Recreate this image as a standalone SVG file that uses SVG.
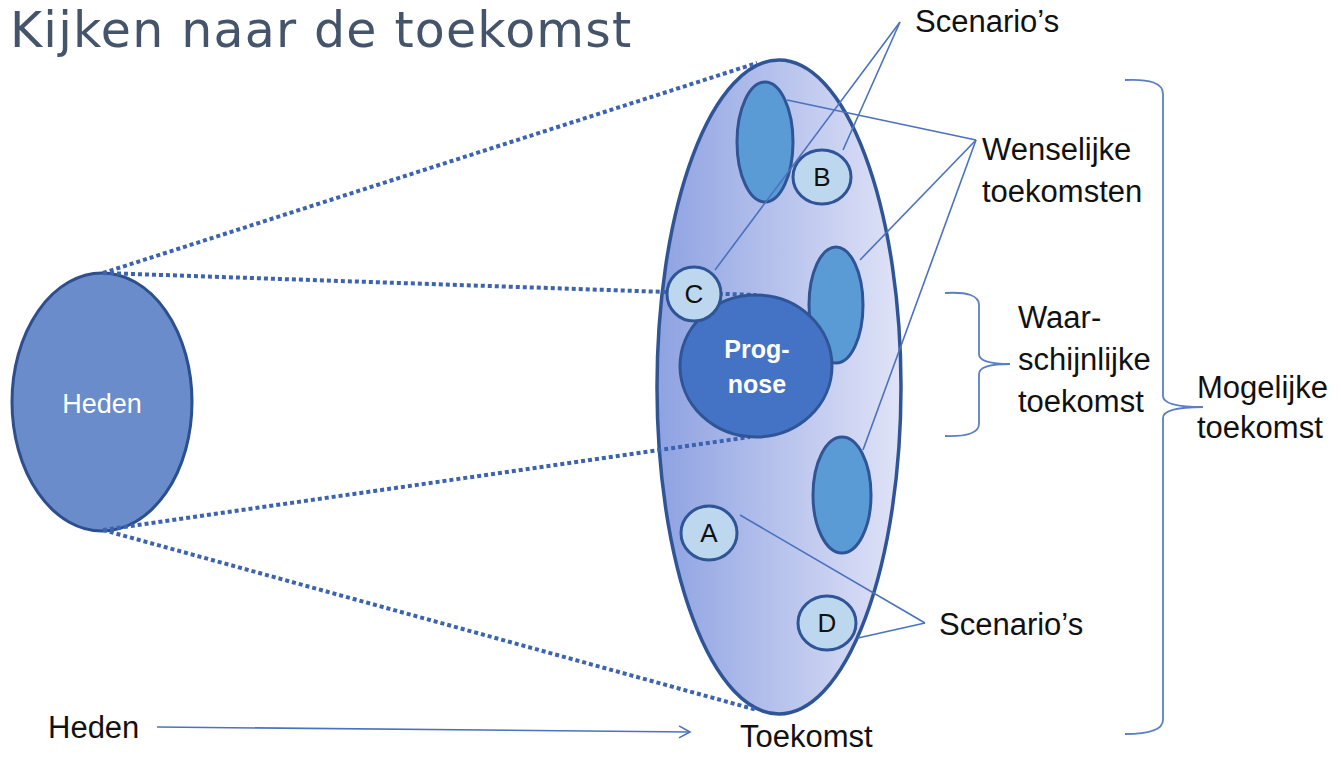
<svg xmlns="http://www.w3.org/2000/svg" width="1341" height="757" viewBox="0 0 1341 757">
<style>
.lbl{font-family:"Liberation Sans",Arial,sans-serif;font-size:31px;fill:#111}
.dot{stroke:#3c63b0;stroke-width:4;stroke-dasharray:4 3;fill:none}
.thin{stroke:#4a72bd;stroke-width:1.6;fill:none}
.brace{stroke:#5b7fc4;stroke-width:1.8;fill:none}
.inner{fill:#5b9bd5;stroke:#2f5597;stroke-width:3}
.circ{fill:#bdd7ee;stroke:#2f5597;stroke-width:3}
.letter{font-family:"Liberation Sans",Arial,sans-serif;font-size:26px;fill:#111;text-anchor:middle}
</style>
<defs>
<linearGradient id="bigGrad" x1="0" y1="0" x2="1" y2="0">
<stop offset="0" stop-color="#8ea2e2"/>
<stop offset="1" stop-color="#e0e3f7"/>
</linearGradient>
<marker id="open" markerWidth="14" markerHeight="14" refX="12" refY="7" orient="auto" markerUnits="userSpaceOnUse">
<path d="M1,1 L12,7 L1,13" fill="none" stroke="#4a72bd" stroke-width="1.6"/>
</marker>
</defs>
<rect width="1341" height="757" fill="#ffffff"/>
<text id="title" x="10" y="47" font-family="DejaVu Sans,Verdana,sans-serif" font-size="49" letter-spacing="1.2" fill="#44546a">Kijken naar de toekomst</text>

<g id="heden">
<ellipse cx="102" cy="402" rx="90" ry="129" fill="#6a8cca" stroke="#2b4f8f" stroke-width="3"/>
<text x="102" y="413" font-family="Liberation Sans,Arial,sans-serif" font-size="27" fill="#ffffff" text-anchor="middle">Heden</text>
</g>

<g id="toekomst-ellipse">
<ellipse cx="779" cy="387" rx="122" ry="327" fill="url(#bigGrad)" stroke="#2f5597" stroke-width="3.5"/>
</g>

<g id="dotted">
<line class="dot" x1="103" y1="273" x2="757" y2="63"/>
<line class="dot" x1="103" y1="273" x2="756" y2="295"/>
<line class="dot" x1="103" y1="530" x2="750" y2="437"/>
<line class="dot" x1="103" y1="530" x2="757" y2="710"/>
</g>

<g id="wens1"><ellipse class="inner" cx="765" cy="142" rx="28" ry="60"/></g>
<g id="wens2"><ellipse class="inner" cx="836" cy="305" rx="27" ry="58"/></g>
<g id="wens3"><ellipse class="inner" cx="842" cy="495" rx="29" ry="58"/></g>

<g id="prognose">
<ellipse cx="756" cy="366" rx="76" ry="71" fill="#4472c4" stroke="#2f5597" stroke-width="3"/>
<text x="757" y="358" font-family="Liberation Sans,Arial,sans-serif" font-size="25" font-weight="bold" fill="#ffffff" text-anchor="middle">Prog-</text>
<text x="757" y="393" font-family="Liberation Sans,Arial,sans-serif" font-size="25" font-weight="bold" fill="#ffffff" text-anchor="middle">nose</text>
</g>

<g id="circB"><ellipse class="circ" cx="822" cy="177" rx="29" ry="27"/><text class="letter" x="822" y="186">B</text></g>
<g id="circC"><ellipse class="circ" cx="694" cy="294" rx="27" ry="27"/><text class="letter" x="694" y="303">C</text></g>
<g id="circA"><ellipse class="circ" cx="709" cy="533" rx="28" ry="27"/><text class="letter" x="709" y="542">A</text></g>
<g id="circD"><ellipse class="circ" cx="827" cy="623" rx="29" ry="27"/><text class="letter" x="827" y="632">D</text></g>

<g id="connectors">
<line class="thin" x1="900" y1="22" x2="715" y2="270"/>
<line class="thin" x1="900" y1="22" x2="843" y2="150"/>
<line class="thin" x1="976" y1="140" x2="787" y2="100"/>
<line class="thin" x1="976" y1="140" x2="860" y2="260"/>
<line class="thin" x1="976" y1="140" x2="863" y2="450"/>
<line class="thin" x1="925" y1="623" x2="740" y2="515"/>
<line class="thin" x1="925" y1="623" x2="858" y2="638"/>
<line class="thin" x1="157" y1="727" x2="690" y2="732" marker-end="url(#open)"/>
</g>

<g id="brace-waarschijnlijk">
<path class="brace" d="M945,293 Q979,291 979,305 L979,354 Q979,364 1010,364 Q979,364 979,374 L979,424 Q979,437 945,436"/>
</g>
<g id="brace-mogelijk">
<path class="brace" d="M1125,80 Q1163,78 1163,94 L1163,396 Q1163,407 1203,407 Q1163,407 1163,418 L1163,720 Q1163,734 1125,734"/>
</g>

<g id="labels">
<text class="lbl" x="915" y="32">Scenario’s</text>
<text class="lbl" x="982" y="160">Wenselijke</text>
<text class="lbl" x="982" y="202">toekomsten</text>
<text class="lbl" x="1018" y="328">Waar-</text>
<text class="lbl" x="1018" y="370">schijnlijke</text>
<text class="lbl" x="1018" y="412">toekomst</text>
<text class="lbl" x="1197" y="398">Mogelijke</text>
<text class="lbl" x="1197" y="438">toekomst</text>
<text class="lbl" x="939" y="635">Scenario’s</text>
<text class="lbl" x="740" y="747">Toekomst</text>
<text class="lbl" x="48" y="738">Heden</text>
</g>
</svg>
